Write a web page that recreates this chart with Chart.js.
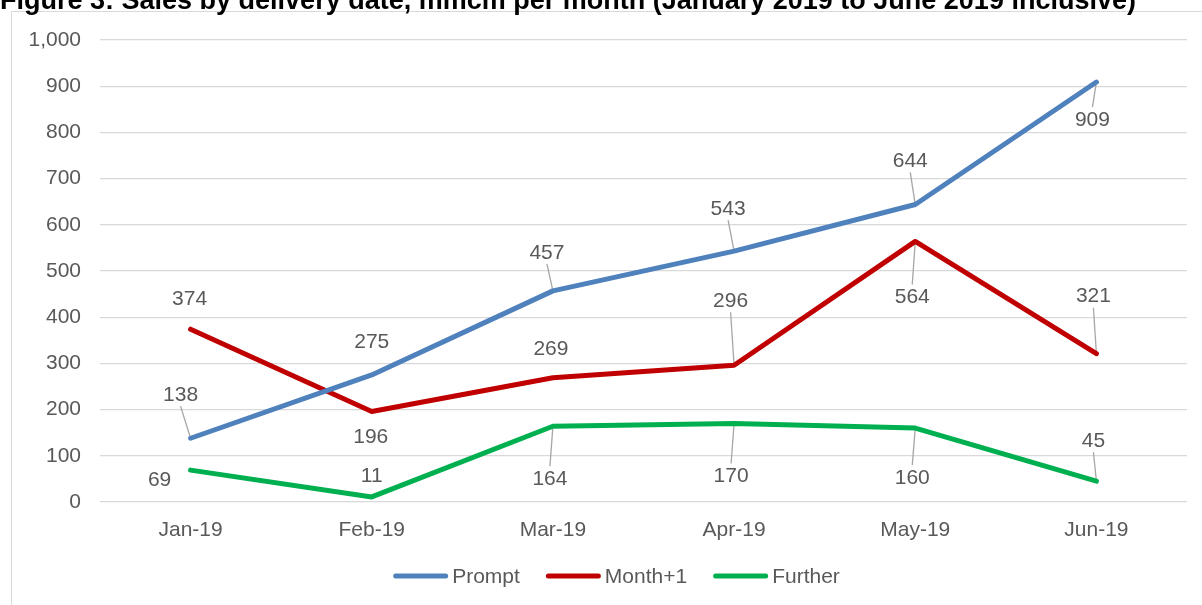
<!DOCTYPE html>
<html>
<head>
<meta charset="utf-8">
<script src="https://cdn.jsdelivr.net/npm/chart.js@4"></script>
<style>
html,body{margin:0;padding:0;background:#fff;overflow:hidden;}
#wrap{position:absolute;left:0;top:0;width:1202px;height:605px;}
</style>
</head>
<body>
<div id="wrap"><canvas id="c" width="1202" height="605"></canvas></div>
<script>
const titleText = 'Figure 3: Sales by delivery date, mmcm per month (January 2019 to June 2019 inclusive)';
const categories = ['Jan-19', 'Feb-19', 'Mar-19', 'Apr-19', 'May-19', 'Jun-19'];
const seriesNames = ['Prompt', 'Month+1', 'Further'];
const promptValues = [138, 275, 457, 543, 644, 909];
const monthPlus1Values = [374, 196, 269, 296, 564, 321];
const furtherValues = [69, 11, 164, 170, 160, 45];
const yTickValues = [0, 100, 200, 300, 400, 500, 600, 700, 800, 900, 1000];

// label placement (style only): offset from the point in pixels
const labelOffsets = [
  [[-10, -44], [0, -34], [-6, -39], [-6, -43], [-5, -44], [-4, 37]],
  [[-1, -31], [-1, 25], [-2, -30], [-3.5, -65], [-3, 55], [-3, -58]],
  [[-31, 9], [0, -22], [-3, 52], [-3, 52], [-3, 49], [-3, -41]]
];
const colors = ['#4F81BD', '#C00000', '#00B050'];
const FONT = '"Liberation Sans", Arial, sans-serif';
const GREY = '#595959';

const decor = {
  id: 'decor',
  beforeDraw(chart) {
    const ctx = chart.ctx;
    ctx.save();
    ctx.fillStyle = '#fff';
    ctx.fillRect(0, 0, chart.width, chart.height);
    ctx.strokeStyle = '#d9d9d9';
    ctx.lineWidth = 1;
    ctx.strokeRect(11.5, 11.5, 1210, 700);
    ctx.fillStyle = '#000';
    ctx.font = 'bold 27px ' + FONT;
    ctx.textAlign = 'left';
    ctx.textBaseline = 'alphabetic';
    ctx.fillText(titleText, 0, 8.5);
    ctx.restore();
  },
  beforeDatasetsDraw(chart) {
    const ctx = chart.ctx;
    ctx.save();
    ctx.font = '21px ' + FONT;
    ctx.strokeStyle = '#a6a6a6';
    ctx.lineWidth = 1.3;
    chart.data.datasets.forEach((ds, i) => {
      const meta = chart.getDatasetMeta(i);
      meta.data.forEach((pt, j) => {
        const [dx, dy] = labelOffsets[i][j];
        if (Math.abs(dy) < 36) return;
        const lx = pt.x + dx, ly = pt.y + dy;
        const ey = dy < 0 ? ly + 12 : ly - 12;
        ctx.beginPath();
        ctx.moveTo(pt.x, pt.y);
        ctx.lineTo(lx, ey);
        ctx.stroke();
      });
    });
    ctx.restore();
  },
  afterDatasetsDraw(chart) {
    const ctx = chart.ctx;
    ctx.save();
    ctx.font = '21px ' + FONT;
    ctx.fillStyle = GREY;
    ctx.textAlign = 'center';
    ctx.textBaseline = 'middle';
    chart.data.datasets.forEach((ds, i) => {
      const meta = chart.getDatasetMeta(i);
      meta.data.forEach((pt, j) => {
        const [dx, dy] = labelOffsets[i][j];
        ctx.fillText(String(ds.data[j]), pt.x + dx, pt.y + dy + 1);
      });
    });
    // legend
    const sample = 55, gapText = 4, gapItem = 26;
    const widths = seriesNames.map(n => ctx.measureText(n).width);
    const total = widths.reduce((a, w) => a + sample + gapText + w, 0) + gapItem * (seriesNames.length - 1);
    let x = 616.5 - total / 2;
    const y = 576;
    ctx.textAlign = 'left';
    seriesNames.forEach((n, i) => {
      ctx.strokeStyle = colors[i];
      ctx.lineWidth = 5;
      ctx.lineCap = 'round';
      ctx.beginPath();
      ctx.moveTo(x + 2.5, y);
      ctx.lineTo(x + sample - 2.5, y);
      ctx.stroke();
      ctx.fillText(n, x + sample + gapText, y + 1);
      x += sample + gapText + widths[i] + gapItem;
    });
    ctx.restore();
  }
};

const seriesValues = [promptValues, monthPlus1Values, furtherValues];

new Chart(document.getElementById('c'), {
  type: 'line',
  data: {
    labels: categories,
    datasets: seriesNames.map((n, i) => ({
      label: n,
      data: seriesValues[i],
      borderColor: colors[i],
      backgroundColor: colors[i],
      borderWidth: 5,
      pointRadius: 0,
      pointHoverRadius: 0,
      tension: 0,
      borderCapStyle: 'round',
      borderJoinStyle: 'round',
      fill: false
    }))
  },
  options: {
    responsive: false,
    animation: false,
    events: [],
    layout: { padding: { left: 12, right: 15, top: 40, bottom: 43 } },
    plugins: { legend: { display: false }, title: { display: false }, tooltip: { enabled: false } },
    scales: {
      x: {
        offset: true,
        grid: { display: false, drawTicks: false },
        border: { display: false },
        ticks: { color: GREY, font: { family: FONT, size: 21 }, padding: 16, maxRotation: 0 },
        afterFit(s) { s.height = 60; }
      },
      y: {
        min: 0, max: 1000,
        afterBuildTicks(s) { s.ticks = yTickValues.map(v => ({ value: v })); },
        grid: { color: '#d9d9d9', lineWidth: 1.3, drawTicks: false },
        border: { display: false },
        ticks: {
          color: GREY, font: { family: FONT, size: 21 }, padding: 19,
          callback: v => Number(v).toLocaleString('en-US')
        },
        afterFit(s) { s.width = 88; }
      }
    }
  },
  plugins: [decor]
});
</script>
</body>
</html>
